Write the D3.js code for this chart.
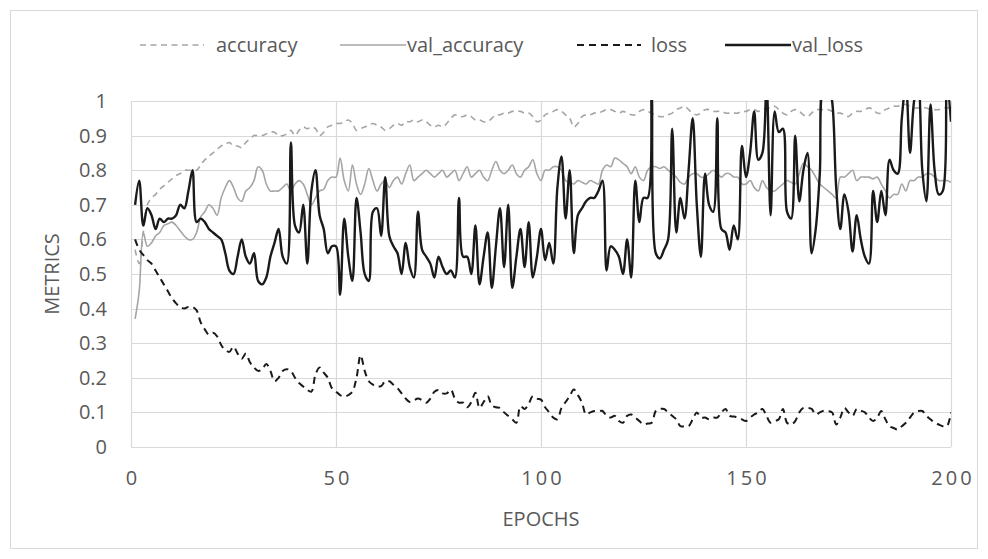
<!DOCTYPE html>
<html><head><meta charset="utf-8">
<script src="https://cdn.jsdelivr.net/npm/d3@7"></script>
<style>
html,body{margin:0;padding:0;background:#fff;}
svg text{font-family:"Open Sans","Noto Sans",sans-serif;fill:#595959;}
</style></head>
<body><svg id="c" width="988" height="559"></svg>
<script>
const epochs = d3.range(1, 201);
const seriesNames = ["accuracy", "val_accuracy", "loss", "val_loss"];
const yTicks = [0,0.1,0.2,0.3,0.4,0.5,0.6,0.7,0.8,0.9,1];
const xTicks = [0,50,100,150,200];
const xTitle = "EPOCHS";
const yTitle = "METRICS";

const accuracy = [0.57,0.53,0.62,0.70,0.72,0.73,0.745,0.755,0.765,0.775,
0.785,0.79,0.80,0.80,0.80,0.80,0.815,0.83,0.84,0.85,
0.86,0.87,0.875,0.88,0.87,0.87,0.865,0.88,0.89,0.90,
0.90,0.90,0.905,0.91,0.91,0.90,0.90,0.905,0.915,0.90,
0.915,0.925,0.92,0.925,0.92,0.90,0.91,0.925,0.93,0.935,
0.935,0.94,0.945,0.935,0.915,0.92,0.925,0.93,0.935,0.93,
0.925,0.915,0.92,0.93,0.935,0.93,0.94,0.94,0.945,0.94,
0.945,0.94,0.93,0.925,0.93,0.925,0.935,0.95,0.96,0.955,
0.955,0.96,0.955,0.945,0.945,0.94,0.94,0.95,0.96,0.96,
0.965,0.965,0.97,0.97,0.97,0.965,0.965,0.955,0.94,0.945,
0.96,0.965,0.97,0.975,0.97,0.96,0.95,0.925,0.935,0.955,
0.96,0.96,0.965,0.965,0.97,0.975,0.975,0.97,0.965,0.97,
0.965,0.96,0.96,0.97,0.975,0.97,0.965,0.96,0.955,0.955,
0.96,0.965,0.975,0.98,0.985,0.975,0.965,0.96,0.965,0.975,
0.975,0.97,0.97,0.97,0.965,0.965,0.965,0.965,0.97,0.97,
0.975,0.975,0.97,0.975,0.98,0.98,0.985,0.975,0.965,0.96,
0.97,0.975,0.97,0.96,0.955,0.965,0.975,0.975,0.975,0.975,
0.97,0.965,0.965,0.96,0.955,0.965,0.97,0.97,0.975,0.98,
0.975,0.965,0.965,0.975,0.98,0.985,0.985,0.99,0.99,0.985,
0.98,0.98,0.98,0.98,0.975,0.975,0.975,0.98,0.98,0.98];

const val_accuracy = [0.37,0.45,0.62,0.58,0.59,0.61,0.62,0.64,0.645,0.65,
0.64,0.625,0.61,0.60,0.60,0.62,0.665,0.68,0.70,0.69,
0.67,0.72,0.75,0.77,0.75,0.72,0.71,0.74,0.75,0.77,
0.81,0.80,0.76,0.74,0.74,0.74,0.75,0.76,0.74,0.76,
0.77,0.76,0.73,0.70,0.72,0.74,0.745,0.77,0.78,0.78,
0.835,0.77,0.74,0.815,0.76,0.73,0.76,0.805,0.77,0.74,
0.76,0.77,0.75,0.77,0.78,0.76,0.79,0.815,0.77,0.78,
0.79,0.80,0.79,0.78,0.79,0.80,0.78,0.79,0.80,0.77,
0.79,0.81,0.78,0.79,0.80,0.78,0.77,0.80,0.825,0.80,
0.79,0.80,0.815,0.79,0.78,0.80,0.81,0.83,0.79,0.77,
0.80,0.80,0.81,0.81,0.80,0.77,0.765,0.76,0.77,0.765,
0.76,0.77,0.765,0.76,0.80,0.815,0.81,0.835,0.83,0.82,
0.81,0.79,0.81,0.78,0.77,0.80,0.81,0.81,0.805,0.81,
0.80,0.79,0.78,0.765,0.76,0.78,0.79,0.79,0.78,0.78,
0.79,0.80,0.79,0.78,0.79,0.79,0.78,0.78,0.76,0.76,
0.77,0.75,0.74,0.77,0.75,0.74,0.74,0.75,0.76,0.77,
0.765,0.76,0.79,0.82,0.81,0.80,0.78,0.76,0.75,0.74,
0.73,0.72,0.78,0.78,0.79,0.80,0.77,0.78,0.78,0.78,
0.775,0.78,0.76,0.74,0.72,0.73,0.73,0.76,0.74,0.77,
0.77,0.78,0.78,0.79,0.79,0.78,0.77,0.77,0.77,0.765];

const loss = [0.60,0.57,0.555,0.54,0.53,0.51,0.49,0.47,0.45,0.43,
0.415,0.405,0.40,0.405,0.405,0.395,0.36,0.34,0.325,0.33,
0.32,0.295,0.28,0.275,0.29,0.27,0.255,0.27,0.245,0.23,
0.22,0.225,0.24,0.22,0.19,0.20,0.22,0.225,0.22,0.20,
0.185,0.175,0.165,0.16,0.21,0.23,0.215,0.20,0.17,0.16,
0.15,0.145,0.15,0.16,0.20,0.265,0.22,0.19,0.18,0.175,
0.176,0.19,0.19,0.18,0.17,0.155,0.14,0.13,0.135,0.14,
0.135,0.128,0.14,0.16,0.165,0.155,0.155,0.166,0.14,0.128,
0.128,0.115,0.13,0.157,0.113,0.13,0.147,0.12,0.115,0.113,
0.10,0.09,0.08,0.07,0.118,0.11,0.125,0.147,0.14,0.137,
0.115,0.10,0.085,0.08,0.113,0.13,0.147,0.166,0.15,0.128,
0.094,0.10,0.104,0.104,0.104,0.09,0.085,0.09,0.075,0.07,
0.09,0.094,0.085,0.075,0.065,0.068,0.07,0.104,0.11,0.11,
0.10,0.09,0.08,0.06,0.06,0.06,0.08,0.10,0.085,0.085,
0.08,0.085,0.085,0.10,0.11,0.09,0.088,0.085,0.08,0.075,
0.085,0.094,0.10,0.11,0.09,0.07,0.075,0.08,0.11,0.07,
0.065,0.075,0.10,0.113,0.113,0.11,0.094,0.10,0.105,0.104,
0.10,0.065,0.085,0.113,0.10,0.09,0.11,0.105,0.10,0.085,
0.075,0.085,0.104,0.08,0.06,0.055,0.05,0.06,0.07,0.085,
0.10,0.104,0.104,0.09,0.08,0.07,0.065,0.06,0.06,0.10];

const val_loss = [0.70,0.77,0.64,0.69,0.67,0.63,0.66,0.65,0.66,0.66,
0.67,0.70,0.69,0.74,0.80,0.65,0.66,0.65,0.63,0.62,
0.61,0.60,0.56,0.51,0.50,0.55,0.60,0.55,0.53,0.56,
0.48,0.47,0.49,0.55,0.59,0.63,0.55,0.53,0.88,0.64,
0.62,0.70,0.53,0.74,0.80,0.67,0.63,0.56,0.58,0.58,
0.44,0.66,0.55,0.48,0.72,0.62,0.50,0.48,0.68,0.69,
0.61,0.78,0.61,0.58,0.56,0.50,0.59,0.52,0.49,0.68,
0.57,0.55,0.53,0.49,0.55,0.52,0.50,0.51,0.49,0.72,
0.55,0.55,0.50,0.64,0.47,0.55,0.62,0.46,0.58,0.69,
0.52,0.70,0.46,0.55,0.63,0.52,0.65,0.49,0.55,0.63,
0.54,0.59,0.53,0.75,0.84,0.66,0.80,0.56,0.67,0.69,
0.71,0.72,0.72,0.74,0.77,0.51,0.58,0.57,0.55,0.50,
0.60,0.49,0.77,0.65,0.72,0.72,1.02,0.56,0.545,0.57,
0.60,0.92,0.62,0.72,0.66,0.80,0.95,0.70,0.55,0.79,
0.70,0.68,0.95,0.63,0.62,0.57,0.64,0.60,0.87,0.78,
0.85,0.97,0.83,0.85,1.05,0.67,0.97,0.91,0.92,0.68,
0.66,0.90,0.71,0.80,0.85,0.56,0.63,0.79,1.05,1.05,
1.0,0.75,0.63,0.73,0.68,0.565,0.67,0.60,0.55,0.53,
0.74,0.65,0.74,0.67,0.83,0.80,0.79,0.95,1.05,0.85,
1.0,1.05,0.80,0.71,0.99,0.80,0.73,0.74,1.05,0.94];

const seriesData = [accuracy, val_accuracy, loss, val_loss];
const styles = [
  {stroke:"#a5a5a5", width:1.6, dash:"6,4.5"},
  {stroke:"#a5a5a5", width:1.6, dash:null},
  {stroke:"#1a1a1a", width:2, dash:"7,5"},
  {stroke:"#1a1a1a", width:2.4, dash:null}
];

const svg = d3.select("#c");
const W = 988, H = 559;
const L = 131, R = 951, T = 101, B = 447;
const x = d3.scaleLinear().domain([0,200]).range([L,R]);
const y = d3.scaleLinear().domain([0,1]).range([B,T]);
const FS = "20px";

svg.append("rect").attr("x",0).attr("y",0).attr("width",W).attr("height",H).attr("fill","#fff");
svg.append("rect").attr("x",10.5).attr("y",10.5).attr("width",967).attr("height",538)
  .attr("fill","none").attr("stroke","#d9d9d9").attr("stroke-width",1);

// gridlines
const grid = svg.append("g");
grid.selectAll("line.h").data(yTicks).enter().append("line")
  .attr("x1",L).attr("x2",R).attr("y1",d=>Math.round(y(d))+0.5).attr("y2",d=>Math.round(y(d))+0.5)
  .attr("stroke","#d9d9d9").attr("stroke-width",1.2);
grid.selectAll("line.v").data(xTicks).enter().append("line")
  .attr("y1",T).attr("y2",B).attr("x1",d=>Math.round(x(d))+0.5).attr("x2",d=>Math.round(x(d))+0.5)
  .attr("stroke","#d9d9d9").attr("stroke-width",1.2);

// axes (labels only)
const yAxis = d3.axisLeft(y).tickValues(yTicks).tickSize(0).tickPadding(24).tickFormat(d3.format("~g"));
const gy = svg.append("g").attr("transform",`translate(${L},0)`).call(yAxis);
gy.select(".domain").remove();
gy.selectAll("text").style("font-size",FS).attr("fill","#595959");

const xAxis = d3.axisBottom(x).tickValues(xTicks).tickSize(0).tickPadding(24).tickFormat(d3.format("d"));
const gx = svg.append("g").attr("transform",`translate(0,${B})`).call(xAxis);
gx.select(".domain").remove();
gx.selectAll("text").style("font-size",FS).attr("fill","#595959").style("letter-spacing","3px").attr("dx","1.5px");
svg.selectAll(".tick text").attr("font-family",null);
svg.selectAll(".tick").attr("font-family",null);

svg.append("text").attr("x",x(100)).attr("y",526).attr("text-anchor","middle")
  .style("font-size",FS).text(xTitle);
svg.append("text").attr("transform",`translate(59,${(T+B)/2}) rotate(-90)`).attr("text-anchor","middle")
  .style("font-size",FS).text(yTitle);

// clip
svg.append("defs").append("clipPath").attr("id","pc").append("rect")
  .attr("x",L).attr("y",T-1).attr("width",R-L).attr("height",B-T+2);

const line = d3.line().x((d,i)=>x(epochs[i])).y(d=>y(d)).curve(d3.curveCatmullRom.alpha(0.5));
const plot = svg.append("g").attr("clip-path","url(#pc)");
[0,1,2,3].forEach(k=>{
  const s = styles[k];
  plot.append("path").datum(seriesData[k]).attr("d",line)
    .attr("fill","none").attr("stroke",s.stroke).attr("stroke-width",s.width)
    .attr("stroke-dasharray",s.dash).attr("stroke-linejoin","round");
});

// legend
const legendItems = [
  {lx:140, len:64, tx:216},
  {lx:340, len:66, tx:407},
  {lx:577, len:64, tx:651},
  {lx:725, len:66, tx:792}
];
const lg = svg.append("g");
seriesNames.forEach((n,k)=>{
  const s = styles[k], p = legendItems[k];
  lg.append("line").attr("x1",p.lx).attr("x2",p.lx + p.len).attr("y1",45).attr("y2",45)
    .attr("stroke",s.stroke).attr("stroke-width",s.width).attr("stroke-dasharray",s.dash);
  lg.append("text").attr("x",p.tx).attr("y",45).attr("dy","0.35em")
    .style("font-size",FS).text(n);
});
</script></body></html>
